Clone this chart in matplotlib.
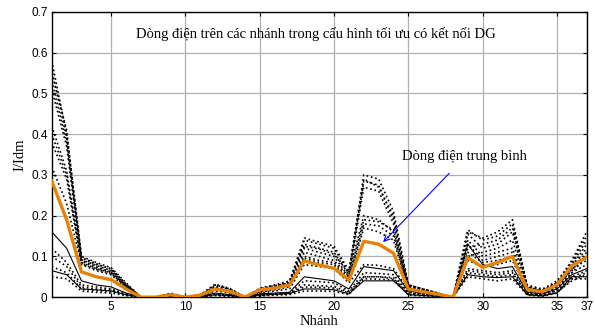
import numpy as np
import matplotlib
matplotlib.use('Agg')
import matplotlib.pyplot as plt

branches = list(range(1, 38))

# individual runs (dotted unless noted)
run_a1 = [0.58, 0.40, 0.10, 0.085, 0.072, 0.035, 0, 0, 0.008, 0, 0.005, 0.03, 0.02, 0, 0.02, 0.028, 0.035, 0.14, 0.13, 0.12, 0.06, 0.30, 0.29, 0.21, 0.03, 0.02, 0.01, 0, 0.16, 0.145, 0.16, 0.19, 0.03, 0.02, 0.035, 0.09, 0.16]
run_a2 = [0.56, 0.39, 0.095, 0.08, 0.07, 0.032, 0, 0, 0.01, 0, 0.004, 0.028, 0.018, 0, 0.022, 0.03, 0.04, 0.145, 0.135, 0.125, 0.065, 0.29, 0.27, 0.20, 0.028, 0.018, 0.009, 0, 0.165, 0.14, 0.15, 0.18, 0.028, 0.018, 0.04, 0.085, 0.15]
run_a3 = [0.55, 0.41, 0.098, 0.082, 0.068, 0.03, 0, 0, 0.006, 0, 0.006, 0.032, 0.021, 0, 0.018, 0.025, 0.038, 0.13, 0.12, 0.11, 0.055, 0.285, 0.275, 0.19, 0.03, 0.02, 0.01, 0, 0.12, 0.13, 0.14, 0.17, 0.025, 0.015, 0.03, 0.08, 0.14]
run_a4 = [0.53, 0.38, 0.092, 0.078, 0.065, 0.03, 0, 0, 0.008, 0, 0.005, 0.025, 0.018, 0, 0.02, 0.027, 0.035, 0.125, 0.118, 0.105, 0.06, 0.20, 0.19, 0.16, 0.025, 0.016, 0.008, 0, 0.155, 0.12, 0.13, 0.16, 0.025, 0.016, 0.035, 0.075, 0.13]
run_a5 = [0.51, 0.37, 0.09, 0.075, 0.062, 0.028, 0, 0, 0.007, 0, 0.004, 0.022, 0.016, 0, 0.017, 0.024, 0.032, 0.12, 0.11, 0.10, 0.05, 0.27, 0.26, 0.18, 0.026, 0.017, 0.009, 0, 0.10, 0.11, 0.12, 0.14, 0.022, 0.014, 0.03, 0.07, 0.12]
run_b1 = [0.42, 0.31, 0.088, 0.072, 0.062, 0.028, 0, 0, 0.006, 0, 0.004, 0.024, 0.016, 0, 0.015, 0.022, 0.03, 0.11, 0.10, 0.09, 0.05, 0.19, 0.185, 0.165, 0.022, 0.015, 0.008, 0, 0.14, 0.10, 0.11, 0.12, 0.02, 0.012, 0.028, 0.065, 0.11]
run_b2 = [0.40, 0.30, 0.085, 0.07, 0.06, 0.026, 0, 0, 0.005, 0, 0.004, 0.02, 0.014, 0, 0.014, 0.02, 0.028, 0.10, 0.09, 0.085, 0.045, 0.18, 0.175, 0.15, 0.02, 0.014, 0.007, 0, 0.13, 0.09, 0.10, 0.11, 0.018, 0.01, 0.025, 0.06, 0.10]
run_b3 = [0.38, 0.29, 0.082, 0.068, 0.058, 0.025, 0, 0, 0.005, 0, 0.003, 0.018, 0.012, 0, 0.012, 0.018, 0.025, 0.095, 0.085, 0.08, 0.04, 0.17, 0.16, 0.14, 0.02, 0.013, 0.006, 0, 0.11, 0.085, 0.09, 0.10, 0.018, 0.01, 0.025, 0.07, 0.09]
run_c1 = [0.32, 0.23, 0.08, 0.065, 0.055, 0.022, 0, 0, 0.004, 0, 0.003, 0.015, 0.01, 0, 0.01, 0.015, 0.02, 0.08, 0.075, 0.07, 0.035, 0.08, 0.078, 0.07, 0.018, 0.012, 0.006, 0, 0.09, 0.075, 0.08, 0.09, 0.016, 0.01, 0.022, 0.06, 0.08]
run_d1 = [0.16, 0.12, 0.04, 0.03, 0.025, 0.01, 0, 0, 0.003, 0, 0.002, 0.01, 0.006, 0, 0.008, 0.01, 0.012, 0.05, 0.045, 0.04, 0.02, 0.075, 0.07, 0.065, 0.015, 0.01, 0.005, 0, 0.13, 0.08, 0.07, 0.075, 0.012, 0.008, 0.02, 0.055, 0.07]
run_e1 = [0.12, 0.085, 0.03, 0.025, 0.02, 0.008, 0, 0, 0.002, 0, 0.002, 0.008, 0.005, 0, 0.006, 0.008, 0.01, 0.04, 0.038, 0.035, 0.015, 0.06, 0.058, 0.055, 0.012, 0.008, 0.004, 0, 0.07, 0.065, 0.06, 0.065, 0.01, 0.006, 0.018, 0.05, 0.065]
run_f1 = [0.10, 0.075, 0.025, 0.02, 0.018, 0.006, 0, 0, 0.002, 0, 0.001, 0.006, 0.004, 0, 0.005, 0.007, 0.009, 0.03, 0.028, 0.026, 0.012, 0.05, 0.05, 0.048, 0.01, 0.007, 0.003, 0, 0.065, 0.06, 0.055, 0.06, 0.008, 0.005, 0.015, 0.045, 0.06]
run_g1 = [0.075, 0.06, 0.02, 0.016, 0.014, 0.005, 0, 0, 0.001, 0, 0.001, 0.005, 0.003, 0, 0.004, 0.006, 0.008, 0.025, 0.024, 0.022, 0.01, 0.045, 0.044, 0.042, 0.008, 0.006, 0.003, 0, 0.06, 0.055, 0.05, 0.055, 0.007, 0.004, 0.012, 0.04, 0.055]
run_h1 = [0.065, 0.055, 0.02, 0.018, 0.015, 0.006, 0, 0, 0.002, 0, 0.001, 0.006, 0.004, 0, 0.005, 0.007, 0.009, 0.02, 0.02, 0.018, 0.008, 0.04, 0.04, 0.04, 0.006, 0.004, 0.002, 0, 0.055, 0.05, 0.048, 0.05, 0.006, 0.003, 0.01, 0.05, 0.05]
run_i1 = [0.05, 0.045, 0.015, 0.012, 0.01, 0.004, 0, 0, 0.001, 0, 0.001, 0.004, 0.002, 0, 0.003, 0.005, 0.006, 0.015, 0.015, 0.014, 0.006, 0.05, 0.05, 0.045, 0.005, 0.003, 0.001, 0, 0.05, 0.045, 0.04, 0.045, 0.005, 0.002, 0.01, 0.045, 0.045]

mean_current = [0.285, 0.19, 0.062, 0.05, 0.043, 0.02, 0, 0, 0.006, 0, 0.005, 0.02, 0.014, 0, 0.018, 0.022, 0.03, 0.089, 0.079, 0.071, 0.042, 0.137, 0.13, 0.108, 0.02, 0.013, 0.007, 0, 0.097, 0.073, 0.085, 0.10, 0.019, 0.013, 0.03, 0.077, 0.098]

dotted_runs = [run_a1, run_a2, run_a3, run_a4, run_a5, run_b1, run_b2, run_b3,
               run_c1, run_e1, run_f1, run_g1, run_i1]
solid_runs = [run_d1, run_h1]

serif = ['Liberation Serif', 'DejaVu Serif']
sans = ['Liberation Sans', 'DejaVu Sans']

fig = plt.figure(figsize=(5.95, 3.32), dpi=100)
ax = fig.add_axes([0.087, 0.105, 0.899, 0.859])

for run in dotted_runs:
    ax.plot(branches, run, color='black', linestyle=':', linewidth=1.2)
for run in solid_runs:
    ax.plot(branches, run, color='black', linestyle='-', linewidth=0.8)
ax.plot(branches, mean_current, color='#e5820a', linewidth=2.4, zorder=5)

ax.set_xlim(1, 37)
ax.set_ylim(0, 0.7)
ax.set_xticks([5, 10, 15, 20, 25, 30, 35, 37])
ax.set_yticks(np.arange(0, 0.71, 0.1))
ax.set_yticklabels(['0', '0.1', '0.2', '0.3', '0.4', '0.5', '0.6', '0.7'])
ax.grid(True, color='#b0b0b0', linewidth=0.9)
ax.set_axisbelow(True)
ax.tick_params(direction='in', top=True, right=True, length=3, labelsize=8.5, pad=3)
for lbl in ax.get_xticklabels() + ax.get_yticklabels():
    lbl.set_family(sans)
for sp in ax.spines.values():
    sp.set_linewidth(1.0)

ax.set_xlabel('Nhánh', family=serif, fontsize=10.5, labelpad=1)
ax.set_ylabel('I/Idm', family=serif, fontsize=10.5, labelpad=3)

ax.text(18.8, 0.645, 'Dòng điện trên các nhánh trong cấu hình tối ưu có kết nối DG',
        family=serif, fontsize=10.5, ha='center', va='center')
ax.annotate('Dòng điện trung bình', xy=(23.3, 0.135), xytext=(28.8, 0.344),
            family=serif, fontsize=10.5, ha='center', va='center',
            arrowprops=dict(arrowstyle='->', color='blue', linewidth=0.8,
                            shrinkA=7, shrinkB=0))

fig.savefig('out.png', dpi=100)
